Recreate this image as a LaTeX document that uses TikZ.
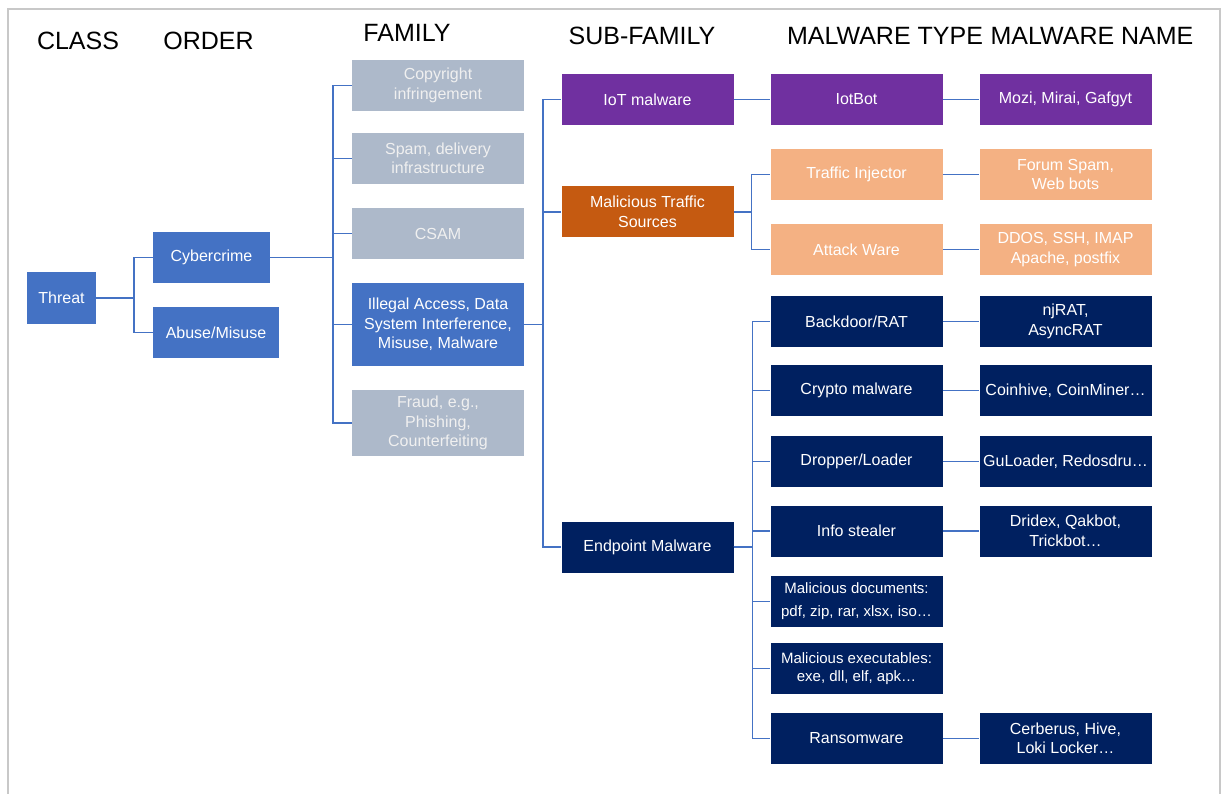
\documentclass[tikz,border=0pt]{standalone}
\usepackage{fontspec}
\setmainfont{Liberation Sans}
\usepackage{tikz}
\definecolor{midblue}{HTML}{4472C4}
\definecolor{greyblue}{HTML}{ADB9CA}
\definecolor{iotpurple}{HTML}{7030A0}
\definecolor{rust}{HTML}{C55A11}
\definecolor{peach}{HTML}{F4B183}
\definecolor{navy}{HTML}{002060}
\definecolor{framegrey}{HTML}{C8C8C8}

\begin{document}
\begin{tikzpicture}[x=1pt,y=-1pt]
    \tikzstyle{every node}+=[inner sep=0pt]
    \tikzstyle{box}=[minimum width=172pt, minimum height=51pt, align=center, text=white, font=\fontsize{16}{19.5}\selectfont]
    \tikzstyle{head}=[font=\fontsize{25}{30}\selectfont]
    \tikzstyle{link}=[draw=midblue, line width=1.5pt]
    \useasboundingbox (0,0) rectangle (1222,794);
    \draw [framegrey, line width=2pt] (8,794) -- (8,9) -- (1220,9) -- (1220,794);
    \node [head] (hclass) at (78,41) {CLASS};
    \node [head] (horder) at (208.5,41) {ORDER};
    \node [head] (hfamily) at (407,33) {FAMILY};
    \node [head] (hsub) at (642,36) {SUB-FAMILY};
    \node [head] (htype) at (885,36) {MALWARE TYPE};
    \node [head] (hname) at (1092,36) {MALWARE NAME};
    \node [box, fill=midblue, minimum width=69pt, minimum height=52pt] (threat) at (61.5,298) {Threat};
    \node [box, fill=midblue, minimum width=117pt] (cyber) at (211.5,257.5) {Cybercrime};
    \node [box, fill=midblue, minimum width=126pt] (abuse) at (216,332.5) {Abuse/Misuse};
    \node [box, fill=greyblue, text=white!94!black] (copyright) at (438,85.5) {Copyright\\infringement};
    \node [box, fill=greyblue, text=white!94!black] (spam) at (438,158.5) {Spam, delivery\\infrastructure};
    \node [box, fill=greyblue, text=white!94!black] (csam) at (438,233.5) {CSAM};
    \node [box, fill=midblue, minimum height=83pt] (illegal) at (438,324.5) {Illegal Access, Data\\System Interference,\\Misuse, Malware};
    \node [box, fill=greyblue, text=white!94!black, minimum height=66pt] (fraud) at (438,423) {Fraud, e.g.,\\Phishing,\\Counterfeiting};
    \node [box, fill=iotpurple] (iot) at (647.5,99.5) {IoT malware};
    \node [box, fill=rust] (traffic) at (647.5,212) {Malicious Traffic\\Sources};
    \node [box, fill=navy] (endpoint) at (647.5,547) {Endpoint Malware};
    \node [box, fill=iotpurple] (iotbot) at (856.5,99.5) {IotBot};
    \node [box, fill=peach] (injector) at (856.5,174.5) {Traffic Injector};
    \node [box, fill=peach] (attack) at (856.5,249.5) {Attack Ware};
    \node [box, fill=navy] (backdoor) at (856.5,321.5) {Backdoor/RAT};
    \node [box, fill=navy] (crypto) at (856.5,390.5) {Crypto malware};
    \node [box, fill=navy] (dropper) at (856.5,461.5) {Dropper/Loader};
    \node [box, fill=navy] (stealer) at (856.5,531) {Info stealer};
    \node [box, fill=navy, font=\fontsize{15}{18}\selectfont] (docs) at (856.5,601.5) {Malicious documents:\\[5pt]pdf, zip, rar, xlsx, iso\dots};
    \node [box, fill=navy, font=\fontsize{15}{18}\selectfont] (exes) at (856.5,668.5) {Malicious executables:\\exe, dll, elf, apk\dots};
    \node [box, fill=navy] (ransom) at (856.5,738.5) {Ransomware};
    \node [box, fill=iotpurple] (mozi) at (1065.5,99.5) {Mozi, Mirai, Gafgyt};
    \node [box, fill=peach] (forum) at (1065.5,174.5) {Forum Spam,\\Web bots};
    \node [box, fill=peach] (ddos) at (1065.5,249.5) {DDOS, SSH, IMAP\\Apache, postfix};
    \node [box, fill=navy] (njrat) at (1065.5,321.5) {njRAT,\\AsyncRAT};
    \node [box, fill=navy] (coinhive) at (1065.5,390.5) {Coinhive, CoinMiner\dots};
    \node [box, fill=navy] (guloader) at (1065.5,461.5) {GuLoader, Redosdru\dots};
    \node [box, fill=navy] (dridex) at (1065.5,531) {Dridex, Qakbot,\\Trickbot\dots};
    \node [box, fill=navy] (cerberus) at (1065.5,738.5) {Cerberus, Hive,\\Loki Locker\dots};
    \draw [link] (threat.east) -- ++(38,0) |- (cyber.west);
    \draw [link] (threat.east) -- ++(38,0) |- (abuse.west);
    \foreach \fam in {copyright,spam,csam,illegal,fraud}
        \draw [link] (cyber.east) -- ++(63,0) |- (\fam.west);
    \foreach \sub in {iot,traffic,endpoint}
        \draw [link] (illegal.east) -- ++(19,0) |- (\sub.west);
    \draw [link] (iot) -- (iotbot);
    \foreach \kind in {injector,attack}
        \draw [link] (traffic.east) -- ++(18,0) |- (\kind.west);
    \foreach \kind in {backdoor,crypto,dropper,stealer,docs,exes,ransom}
        \draw [link] (endpoint.east) -- ++(19,0) |- (\kind.west);
    \draw [link] (iotbot) -- (mozi);
    \draw [link] (injector) -- (forum);
    \draw [link] (attack) -- (ddos);
    \draw [link] (backdoor) -- (njrat);
    \draw [link] (crypto) -- (coinhive);
    \draw [link] (dropper) -- (guloader);
    \draw [link] (stealer) -- (dridex);
    \draw [link] (ransom) -- (cerberus);
\end{tikzpicture}
\end{document}
